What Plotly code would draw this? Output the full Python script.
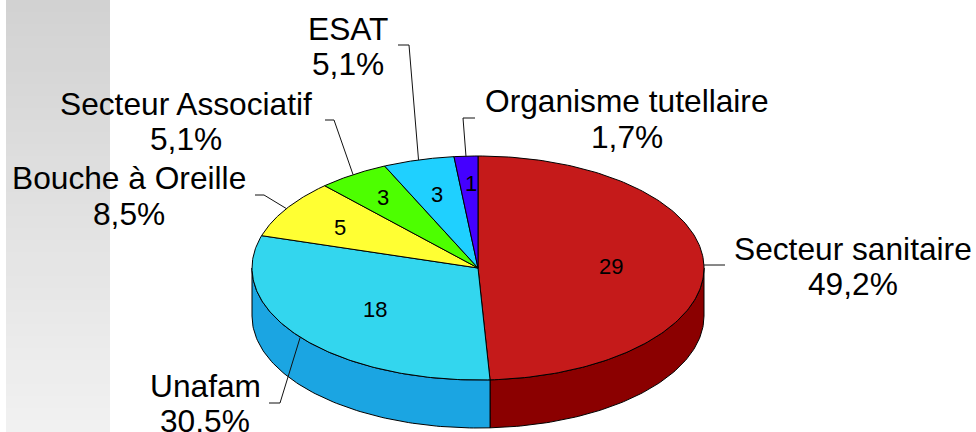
import numpy as np
import plotly.graph_objects as go

categories = ["Secteur sanitaire", "Unafam", "Bouche à Oreille", "Secteur Associatif", "ESAT", "Organisme tutellaire"]
counts = [29, 18, 5, 3, 3, 1]
percent_labels = ["49,2%", "30,5%", "8,5%", "5,1%", "5,1%", "1,7%"]
top_colors = ["#C51A1A", "#33D6EE", "#FFFF33", "#4DFF00", "#1FD0FF", "#4400FF"]
side_colors = ["#8B0000", "#1BA5E2", "#B0B000", "#30A000", "#1090C0", "#2A00A0"]

# Layout of the drawing (pixels of the 976x432 page)
CX, CY, RX, RY, DEPTH = 478, 268, 226, 112, 48
name_pos = [(853, 249), (205, 386), (129, 178), (186, 104), (348, 29), (627, 101)]
pct_pos = [(853, 284), (205, 421), (129, 214), (186, 139), (348, 64), (627, 137)]
count_pos = [(611, 266), (375, 309), (340, 227), (383, 197), (437, 194), (471, 183)]
elbows = [[(725, 265)], [(280, 403), (269, 403)], [(264, 195), (255, 195)],
          [(334, 120), (325, 120)], [(409, 45), (398, 45)], [(463, 118), (475, 118)]]


def rim(deg, dy=0):
    t = np.radians(deg)
    return CX + RX * np.sin(t), CY - RY * np.cos(t) + dy


total = sum(counts)
edges = np.cumsum([0] + counts) / total * 360

fig = go.Figure()

# left grey gradient band
band_y = np.arange(0, 433, 12)
fig.add_trace(go.Heatmap(
    x=[6, 110], y=band_y, z=[[v] for v in band_y[:-1]],
    colorscale=[[0, "#D2D2D2"], [1, "#F1F1F1"]], showscale=False,
    hoverinfo="skip", zsmooth=False))

OUT = dict(color="#000000", width=1)

# side walls (only the front half is visible)
for i in range(len(counts)):
    a0, a1 = max(edges[i], 90), min(edges[i + 1], 270)
    if a1 <= a0:
        continue
    ang = np.linspace(a0, a1, 90)
    xt, yt = rim(ang)
    xb, yb = rim(ang[::-1], DEPTH)
    fig.add_trace(go.Scatter(
        x=np.r_[xt, xb, xt[0]], y=np.r_[yt, yb, yt[0]], mode="lines", fill="toself",
        fillcolor=side_colors[i], line=OUT, hoverinfo="skip", showlegend=False))

# top faces
for i in range(len(counts)):
    ang = np.linspace(edges[i], edges[i + 1], 160)
    xt, yt = rim(ang)
    fig.add_trace(go.Scatter(
        x=np.r_[CX, xt, CX], y=np.r_[CY, yt, CY], mode="lines", fill="toself",
        fillcolor=top_colors[i], line=OUT, hoverinfo="skip", showlegend=False))

# leader lines
for i in range(len(counts)):
    sx, sy = rim((edges[i] + edges[i + 1]) / 2)
    xs = [sx] + [p[0] for p in elbows[i]]
    ys = [sy] + [p[1] for p in elbows[i]]
    fig.add_trace(go.Scatter(x=xs, y=ys, mode="lines", line=dict(color="#111111", width=1),
                             hoverinfo="skip", showlegend=False))

FONT = "Liberation Sans, Arial, sans-serif"
for i, c in enumerate(categories):
    for txt, pos, size in ((c, name_pos[i], 31.7), (percent_labels[i], pct_pos[i], 31.7),
                           (str(counts[i]), count_pos[i], 22)):
        fig.add_annotation(x=pos[0], y=pos[1], text=txt, showarrow=False, xanchor="center",
                           yanchor="middle", font=dict(family=FONT, size=size, color="#000000"))

fig.update_layout(
    width=976, height=432, margin=dict(l=0, r=0, t=0, b=0), showlegend=False,
    paper_bgcolor="#FFFFFF", plot_bgcolor="#FFFFFF",
    xaxis=dict(range=[0, 976], visible=False, fixedrange=True),
    yaxis=dict(range=[432, 0], visible=False, fixedrange=True))
fig.write_html("out.html", config=dict(displayModeBar=False),
               post_script="document.body.style.margin='0';document.body.style.overflow='hidden';")
